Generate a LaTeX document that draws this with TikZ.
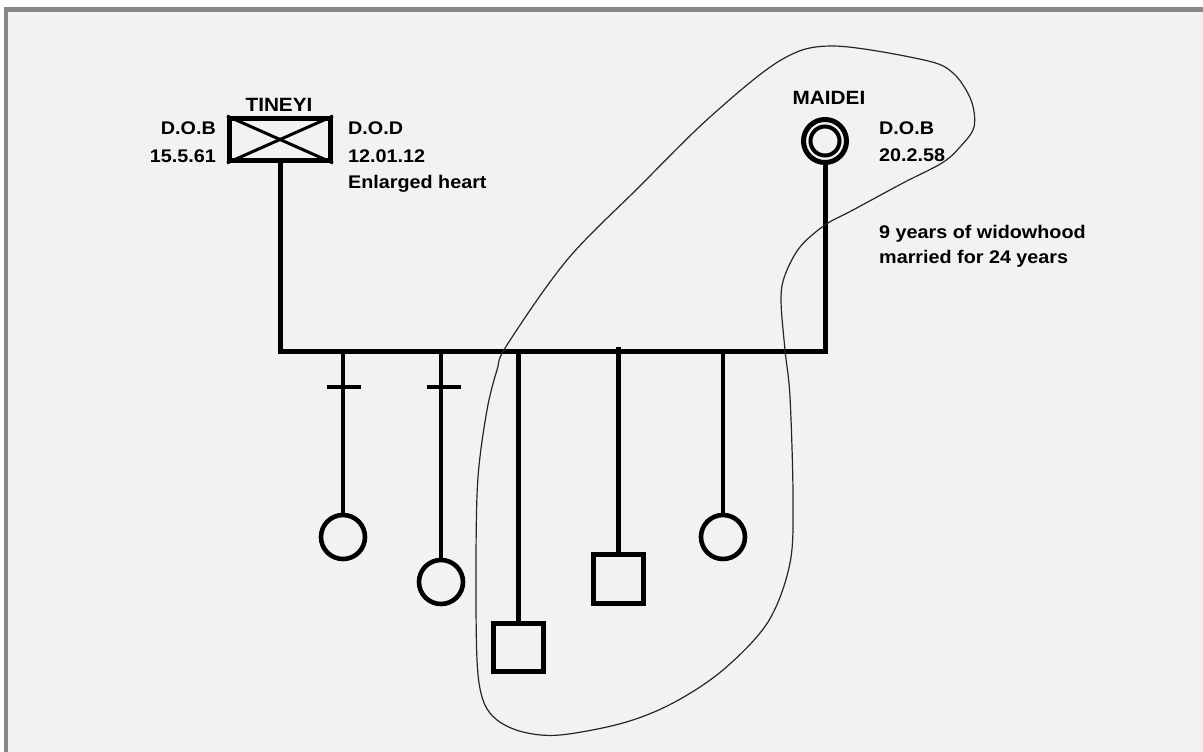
\documentclass[tikz,border=0pt]{standalone}
\usepackage{fontspec}
\setmainfont{Liberation Sans}[FakeStretch=1.08]
\begin{document}
\begin{tikzpicture}[x=1pt,y=-1pt,
  marline/.style={line width=5pt,draw=black},
  kidline/.style={line width=4.6pt,draw=black},
  person/.style={draw=black,line width=4.6pt,inner sep=0pt,fill=none},
  lbl/.style={inner sep=0pt,font=\bfseries\fontsize{18.3}{26}\selectfont,text=black},
  pname/.style={inner sep=0pt,font=\bfseries\fontsize{19.2}{26}\selectfont,text=black},
  encircle/.style={line width=1.2pt,draw=black!85}]
% canvas and frame
\useasboundingbox (0,0) rectangle (1203,752);
\fill[white] (0,0) rectangle (1203,752);
\fill[black!47] (4,7) rectangle (1203,12);
\fill[black!47] (4,7) rectangle (8,752);
\fill[fill={rgb,255:red,242;green,242;blue,244}] (8,12) rectangle (1203,752);
\fill[black!6] (1200,12) rectangle (1203,752);

% parents
\node[person,line width=5pt,rectangle,minimum width=101pt,minimum height=42pt] (tineyi) at (280,139.5) {};
\draw[line width=3pt] (tineyi.north west) -- (tineyi.south east);
\draw[line width=3pt] (tineyi.south west) -- (tineyi.north east);
\node[person,line width=5pt,circle,minimum size=43pt] (maidei) at (825,141) {};
\node[person,line width=4pt,circle,minimum size=29pt] (maideiin) at (825,141) {};

% labels
\node[pname,anchor=base] (tname) at (279,111) {TINEYI};
\node[lbl,anchor=base east] (tdob) at (216,135) {D.O.B};
\node[lbl,anchor=base east] (tdobv) at (216,162) {15.5.61};
\node[lbl,anchor=base west] (tdod) at (348,135) {D.O.D};
\node[lbl,anchor=base west] (tdodv) at (348,162) {12.01.12};
\node[lbl,anchor=base west] (tcause) at (348,188) {Enlarged heart};
\node[pname,anchor=base] (mname) at (829,105) {MAIDEI};
\node[lbl,anchor=base west] (mdob) at (879,135) {D.O.B};
\node[lbl,anchor=base west] (mdobv) at (879,161) {20.2.58};
\node[lbl,anchor=base west] (note1) at (879,238) {9 years of widowhood};
\node[lbl,anchor=base west] (note2) at (879,263) {married for 24 years};

% marriage line
\coordinate (mL) at (280,351);
\coordinate (mR) at (825,351);
\draw[marline,line join=miter,line cap=rect] (tineyi.south) -- (mL) -- (mR) -- (maidei.south);

% children
\node[person,circle,minimum size=44pt] (c1) at (343,537) {};
\node[person,circle,minimum size=44pt] (c2) at (441,582) {};
\node[person,rectangle,minimum width=50.5pt,minimum height=48.5pt] (c3) at (518.5,647.5) {};
\node[person,rectangle,minimum width=50.5pt,minimum height=49.5pt] (c4) at (618.5,579) {};
\node[person,circle,minimum size=44pt] (c5) at (723,537) {};

\coordinate (s1) at (343,351);
\coordinate (s2) at (441,351);
\coordinate (s3) at (518.5,351);
\coordinate (s4) at (618.5,347);
\coordinate (s5) at (723,351);
\draw[kidline] (s1) -- (c1.north);
\draw[kidline] (s2) -- (c2.north);
\draw[kidline] (s3) -- (c3.north);
\draw[kidline] (s4) -- (c4.north);
\draw[kidline] (s5) -- (c5.north);

% ticks
\coordinate (t1a) at (327,387); \coordinate (t1b) at (361,387);
\coordinate (t2a) at (427,387); \coordinate (t2b) at (461,387);
\draw[kidline] (t1a) -- (t1b);
\draw[kidline] (t2a) -- (t2b);

% encircling loop
\draw[encircle] plot[smooth cycle,tension=0.55] coordinates {
 (833,46) (924,60) (953,73) (971,100) (974,127) (960,147) (942,163)
 (903,183) (853,210) (825,225) (800,247) (785,275) (781,300) (785,350)
 (790,397) (793,497) (790,563) (768,622) (723,670) (673,703) (623,723)
 (560,735) (523,732) (497,720) (483,700) (477,660) (476,560) (478,477)
 (487,410) (497,370) (507,345) (567,260) (639,187) (710,117) (781,60)};
\end{tikzpicture}
\end{document}
